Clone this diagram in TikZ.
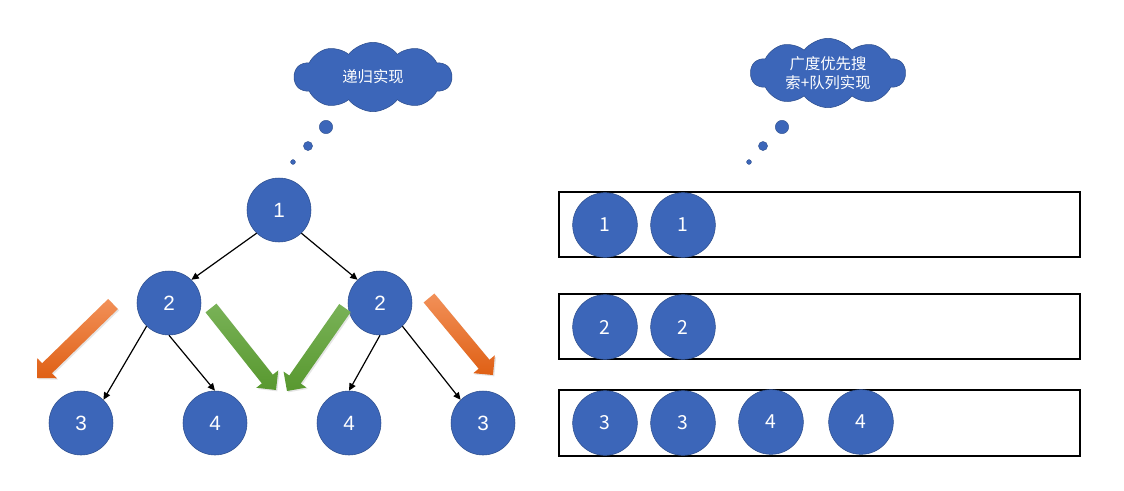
\documentclass[tikz,border=0pt]{standalone}
\usepackage{fontspec}
\setmainfont{Liberation Sans}
\newfontfamily\cjk{Noto Sans CJK SC}
\usetikzlibrary{shapes.symbols,calc,arrows.meta,shadows}
\definecolor{nodeblue}{HTML}{3C66B9}
\definecolor{nodeedge}{HTML}{2E4F8E}
\definecolor{orlight}{HTML}{F29058}
\definecolor{ordark}{HTML}{DF6015}
\definecolor{grlight}{HTML}{79B257}
\definecolor{grdark}{HTML}{58982F}
\tikzset{
  tnode/.style={circle,fill=nodeblue,draw=nodeedge,line width=0.4pt,minimum size=48pt,inner sep=0pt,text=white,font=\fontsize{15.5}{18}\selectfont},
  qnode/.style={circle,fill=nodeblue,draw=nodeedge,line width=0.4pt,minimum size=48.5pt,inner sep=0pt,text=white,font=\cjk\fontsize{14.5}{17}\selectfont},
  edge/.style={line width=0.9pt,-{Triangle[length=5.5pt,width=5pt]}},
  qbox/.style={draw=black,line width=1.4pt},
  thought/.style={cloud,cloud puffs=10,cloud puff arc=105,cloud ignores aspect,fill=nodeblue,draw=nodeedge,line width=0.4pt,inner sep=0pt,text=white,font=\cjk\fontsize{11.5}{14.5}\selectfont,align=center},
  bubble/.style={circle,fill=nodeblue,draw=nodeedge,line width=0.3pt,inner sep=0pt},
  orangearrow/.style={top color=orlight,bottom color=ordark,drop shadow={shadow xshift=1pt,shadow yshift=-1pt,opacity=0.2}},
  greenarrow/.style={top color=grlight,bottom color=grdark,drop shadow={shadow xshift=1pt,shadow yshift=-1pt,opacity=0.2}}
}
\newcommand{\blockarrow}[3]{%
  \coordinate (ba-t) at #1;
  \coordinate (ba-p) at #2;
  \coordinate (ba-h) at ($(ba-p)!10.5pt!(ba-t)$);
  \path[#3] ($(ba-t)!5.25pt!90:(ba-p)$) -- ($(ba-h)!5.25pt!90:(ba-p)$) -- ($(ba-h)!10.5pt!90:(ba-p)$) -- (ba-p)
    -- ($(ba-h)!10.5pt!-90:(ba-p)$) -- ($(ba-h)!5.25pt!-90:(ba-p)$) -- ($(ba-t)!5.25pt!-90:(ba-p)$) -- cycle;
}
\begin{document}
\begin{tikzpicture}[x=0.75pt,y=-0.75pt]
\useasboundingbox (0,0) rectangle (1124,490);
\fill[white] (0,0) rectangle (1124,490);

% thought clouds
\node[thought,minimum width=118pt,minimum height=52pt] (c1) at (373,77) {递归实现};
\node[bubble,minimum size=10pt] (b1a) at (326,127) {};
\node[bubble,minimum size=6.8pt] (b1b) at (308,146) {};
\node[bubble,minimum size=3.6pt] (b1c) at (293,162) {};

\node[thought,minimum width=116pt,minimum height=52pt] (c2) at (828,73) {广度优先搜\\索+队列实现};
\node[bubble,minimum size=10pt] (b2a) at (782,127) {};
\node[bubble,minimum size=6.8pt] (b2b) at (763,146) {};
\node[bubble,minimum size=3.6pt] (b2c) at (749,162) {};

% tree
\node[tnode] (n1) at (279,210) {1};
\node[tnode] (n2l) at (169,303) {2};
\node[tnode] (n2r) at (380,303) {2};
\node[tnode] (n3l) at (81,423) {3};
\node[tnode] (n4l) at (215,423) {4};
\node[tnode] (n4r) at (349,423) {4};
\node[tnode] (n3r) at (483,423) {3};

\draw[edge] (n1.226) -- (n2l.46);
\draw[edge] (n1.314) -- (n2r.134);
\draw[edge] (n2l.226) -- (n3l.46);
\draw[edge] (n2l.270) -- (n4l.90);
\draw[edge] (n2r.270) -- (n4r.90);
\draw[edge] (n2r.314) -- (n3r.134);

% block arrows
\blockarrow{(113,304)}{(37,378)}{orangearrow}
\blockarrow{(429,298)}{(493,375)}{orangearrow}
\blockarrow{(211,308)}{(276,390)}{greenarrow}
\blockarrow{(345,308)}{(287,391)}{greenarrow}

% queues
\draw[qbox] (559,192) rectangle (1080,257);
\draw[qbox] (559,294) rectangle (1080,359);
\draw[qbox] (559,390) rectangle (1080,456);

\node[qnode] (q11) at (605,225) {1};
\node[qnode] (q12) at (683,225) {1};
\node[qnode] (q21) at (605,327) {2};
\node[qnode] (q22) at (683,327) {2};
\node[qnode] (q31) at (605,423) {3};
\node[qnode] (q32) at (683,423) {3};
\node[qnode] (q33) at (771,422) {4};
\node[qnode] (q34) at (861,422) {4};
\end{tikzpicture}
\end{document}
